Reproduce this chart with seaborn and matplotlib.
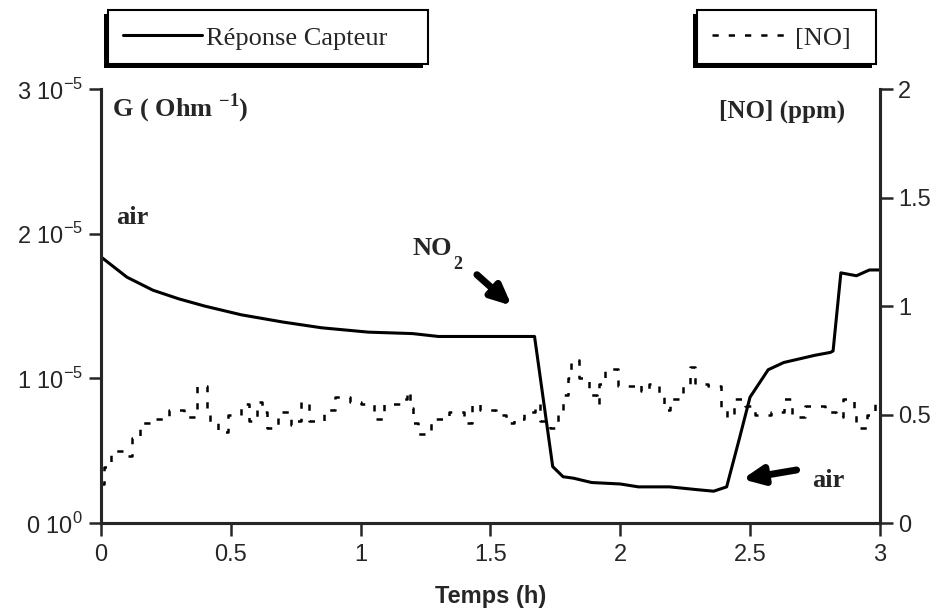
import matplotlib
matplotlib.use("Agg")
import matplotlib.pyplot as plt
from matplotlib.patches import Rectangle
import seaborn as sns
import pandas as pd

# capteur : conductance G (x 1e-5 Ohm^-1) en fonction du temps (h)
t_capteur = [0, 0.1, 0.2, 0.3, 0.4, 0.54, 0.7, 0.85, 1.03, 1.2, 1.3, 1.45, 1.67,
             1.74, 1.78, 1.82, 1.89, 2.0, 2.07, 2.19, 2.3, 2.36, 2.41, 2.46, 2.5,
             2.57, 2.63, 2.75, 2.81, 2.82, 2.85, 2.91, 2.96, 3.0]
g_capteur = [1.84, 1.70, 1.61, 1.55, 1.50, 1.44, 1.39, 1.35, 1.32, 1.31, 1.29, 1.29, 1.29,
             0.39, 0.32, 0.31, 0.28, 0.27, 0.25, 0.25, 0.23, 0.22, 0.25, 0.59, 0.87,
             1.06, 1.11, 1.16, 1.18, 1.19, 1.73, 1.71, 1.75, 1.75]

# concentration [NO] (ppm)
t_no = [0, 0.01, 0.04, 0.09, 0.12, 0.15, 0.20, 0.26, 0.32, 0.37, 0.41, 0.42, 0.45,
        0.49, 0.54, 0.57, 0.60, 0.62, 0.64, 0.68, 0.73, 0.75, 0.77, 0.80, 0.86,
        0.90, 0.96, 1.00, 1.05, 1.09, 1.15, 1.18, 1.19, 1.20, 1.22, 1.27, 1.34,
        1.40, 1.43, 1.46, 1.52, 1.56, 1.59, 1.63, 1.67, 1.69, 1.73, 1.76, 1.78,
        1.80, 1.81, 1.84, 1.88, 1.91, 1.92, 1.94, 1.99, 2.06, 2.08, 2.11, 2.15,
        2.17, 2.19, 2.24, 2.27, 2.29, 2.34, 2.39, 2.41, 2.44, 2.48, 2.52, 2.58,
        2.63, 2.66, 2.68, 2.71, 2.79, 2.83, 2.86, 2.90, 2.91, 2.95, 2.98, 3.0]
no_ppm = [0.18, 0.26, 0.33, 0.31, 0.39, 0.46, 0.48, 0.52, 0.49, 0.63, 0.53, 0.46, 0.42,
          0.50, 0.55, 0.47, 0.56, 0.51, 0.44, 0.51, 0.45, 0.47, 0.56, 0.47, 0.52,
          0.58, 0.56, 0.55, 0.48, 0.55, 0.57, 0.61, 0.53, 0.46, 0.41, 0.48, 0.51,
          0.46, 0.55, 0.52, 0.50, 0.46, 0.48, 0.51, 0.55, 0.47, 0.44, 0.51, 0.59,
          0.67, 0.75, 0.67, 0.59, 0.55, 0.64, 0.71, 0.63, 0.64, 0.61, 0.64, 0.60,
          0.52, 0.57, 0.64, 0.72, 0.64, 0.63, 0.53, 0.49, 0.57, 0.54, 0.50, 0.51,
          0.57, 0.50, 0.49, 0.54, 0.51, 0.49, 0.57, 0.50, 0.44, 0.50, 0.57, 0.49]

g_ticks = [0, 1, 2, 3]
g_labels = ["0 10$^{\\mathregular{0}}$", "1 10$^{\\mathregular{-5}}$",
            "2 10$^{\\mathregular{-5}}$", "3 10$^{\\mathregular{-5}}$"]
no_ticks = [0, 0.5, 1, 1.5, 2]
no_labels = ["0", "0.5", "1", "1.5", "2"]
x_ticks = [0, 0.5, 1, 1.5, 2, 2.5, 3]
x_labels = ["0", "0.5", "1", "1.5", "2", "2.5", "3"]

sns.set_style("ticks")
plt.rcParams["font.family"] = ["Liberation Sans", "DejaVu Sans"]
serif = ["Liberation Serif", "DejaVu Serif"]

df_g = pd.DataFrame({"t": t_capteur, "G": [v * 1e-5 for v in g_capteur]})
df_no = pd.DataFrame({"t": t_no, "NO": no_ppm})

W, H = 944, 611
fig = plt.figure(figsize=(W / 100, H / 100), dpi=100)
ax = fig.add_axes([0.107, 0.144, 0.825, 0.710])
ax2 = ax.twinx()

sns.lineplot(data=df_g, x="t", y="G", ax=ax, color="black", lw=2.2,
             estimator=None, label="Réponse Capteur", legend=False)
sns.lineplot(data=df_no, x="t", y="NO", ax=ax2, color="black", lw=1.8,
             estimator=None, drawstyle="steps-post", linestyle=(0, (2.5, 4)),
             label="[NO]", legend=False)

ax.set_xlim(0, 3)
ax.set_ylim(0, 3e-5)
ax2.set_ylim(0, 2)
ax.set_yticks([v * 1e-5 for v in g_ticks])
ax.set_yticklabels(g_labels)
ax2.set_yticks(no_ticks)
ax2.set_yticklabels(no_labels)
ax.set_xticks(x_ticks)
ax.set_xticklabels(x_labels)
ax.set_ylabel("")
ax2.set_ylabel("")
ax.set_xlabel("Temps (h)", fontsize=17, fontweight="bold", labelpad=14)

for a in (ax, ax2):
    a.spines["top"].set_visible(False)
    for s in ("left", "right", "bottom"):
        a.spines[s].set_linewidth(2.2)
    a.tick_params(width=1.8, length=9, labelsize=17, pad=4, direction="out")
ax.tick_params(axis="x", pad=6)

ax.text(0.014, 0.995, "G ( Ohm $^{\\mathregular{-1}}$)", transform=ax.transAxes,
        ha="left", va="top", fontsize=19, fontweight="bold", family=serif)
ax2.text(0.955, 0.975, "[NO] (ppm)", transform=ax.transAxes,
         ha="right", va="top", fontsize=18, fontweight="bold", family=serif)

ax.text(0.06, 2.07e-5, "air", fontsize=19, fontweight="bold", family=serif)
ax.text(1.2, 1.85e-5, "NO", fontsize=19, fontweight="bold", family=serif)
ax.text(1.355, 1.76e-5, "2", fontsize=13, fontweight="bold", family=serif)
ax.annotate("", xy=(1.59, 1.49e-5), xytext=(1.44, 1.73e-5),
            arrowprops=dict(arrowstyle="-|>,head_length=1.2,head_width=0.55",
                            color="black", lw=5))
ax.text(2.74, 0.25e-5, "air", fontsize=19, fontweight="bold", family=serif)
ax.annotate("", xy=(2.46, 0.30e-5), xytext=(2.69, 0.37e-5),
            arrowprops=dict(arrowstyle="-|>,head_length=1.2,head_width=0.55",
                            color="black", lw=5))

# légendes sans cadre, cadres dessinés ensuite
h1, l1 = ax.get_legend_handles_labels()
h2, l2 = ax2.get_legend_handles_labels()
common = dict(frameon=False, handlelength=3.0, handletextpad=0.15,
              prop={"family": serif, "size": 19}, borderpad=0, borderaxespad=0)
leg1 = fig.legend(h1, l1, loc="center left",
                  bbox_to_anchor=(123 / W, 1 - 38 / H), **common)
leg2 = fig.legend(h2, l2, loc="center right",
                  bbox_to_anchor=(851 / W, 1 - 38 / H), **common)
leg1.set_zorder(6)
leg2.set_zorder(6)

fig.canvas.draw()
box_top, box_h = 10, 54
for leg, pad_l, pad_r in ((leg1, 15, 40), (leg2, 15, 25)):
    bb = leg.get_window_extent()
    x0 = (bb.x0 - pad_l) / W
    w = (bb.x1 - bb.x0 + pad_l + pad_r) / W
    y0 = 1 - (box_top + box_h) / H
    h = box_h / H
    # ombre vers le bas et la gauche
    fig.patches.append(Rectangle((x0 - 4 / W, y0 - 4 / H), w, h, transform=fig.transFigure,
                                 facecolor="black", edgecolor="none", zorder=4))
    fig.patches.append(Rectangle((x0, y0), w, h, transform=fig.transFigure,
                                 facecolor="white", edgecolor="black", lw=1.5, zorder=5))

fig.savefig("out.png", dpi=100)
